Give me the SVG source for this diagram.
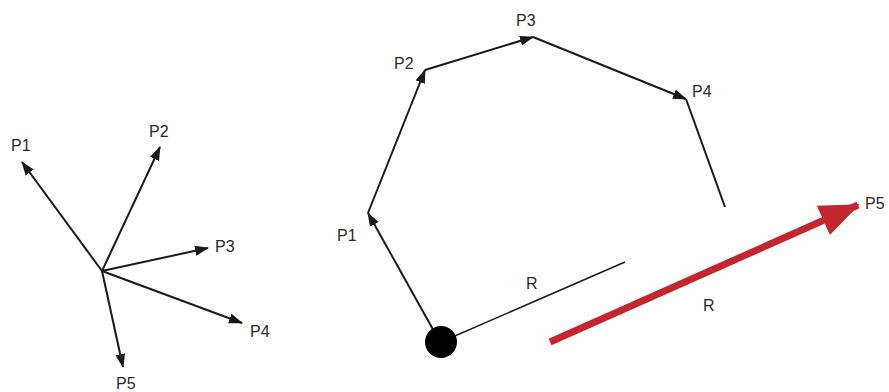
<svg xmlns="http://www.w3.org/2000/svg" width="889" height="392" viewBox="0 0 889 392">
<style>
text{font-family:"Liberation Sans",Arial,sans-serif;font-size:16px;fill:#2a2a2a}
.ln{stroke:#1a1a1a;stroke-width:2;fill:none}
.thin{stroke:#1a1a1a;stroke-width:1.6;fill:none}
</style>
<defs>
<marker id="ah" markerUnits="userSpaceOnUse" markerWidth="14" markerHeight="12" refX="13" refY="5" orient="auto" viewBox="0 0 14 10">
<path d="M0,0 L14,5 L0,10 z" fill="#1a1a1a"/>
</marker>
<marker id="rh" markerUnits="userSpaceOnUse" markerWidth="40" markerHeight="32" refX="38" refY="16" orient="auto" viewBox="0 0 40 32">
<path d="M0,0 L40,16 L0,32 z" fill="#c1272d"/>
</marker>
</defs>
<g id="connectors">
<line class="ln" x1="102" y1="271" x2="22" y2="162" marker-end="url(#ah)"/>
<line class="ln" x1="102" y1="271" x2="160" y2="147" marker-end="url(#ah)"/>
<line class="ln" x1="102" y1="271" x2="208" y2="248" marker-end="url(#ah)"/>
<line class="ln" x1="102" y1="271" x2="242" y2="323" marker-end="url(#ah)"/>
<line class="ln" x1="102" y1="271" x2="123" y2="367" marker-end="url(#ah)"/>
<line class="ln" x1="440" y1="342" x2="368" y2="213" marker-end="url(#ah)"/>
<line class="ln" x1="368" y1="213" x2="425" y2="70" marker-end="url(#ah)"/>
<line class="ln" x1="425" y1="70" x2="533" y2="37" marker-end="url(#ah)"/>
<line class="ln" x1="533" y1="37" x2="686" y2="99" marker-end="url(#ah)"/>
<line class="ln" x1="686" y1="99" x2="725" y2="207"/>
<line class="thin" x1="441" y1="342" x2="625" y2="262"/>
<line x1="550" y1="342" x2="858" y2="205" stroke="#c1272d" stroke-width="7" marker-end="url(#rh)"/>
</g>
<g id="start"><circle cx="441" cy="342" r="16" fill="#000"/></g>
<g id="labels-left">
<text x="11" y="151">P1</text>
<text x="149" y="137">P2</text>
<text x="215" y="252">P3</text>
<text x="250" y="337">P4</text>
<text x="116" y="389">P5</text>
</g>
<g id="labels-right">
<text x="337" y="241">P1</text>
<text x="394" y="69">P2</text>
<text x="516" y="26">P3</text>
<text x="692" y="97">P4</text>
<text x="865" y="209">P5</text>
<text x="526" y="289">R</text>
<text x="703" y="311">R</text>
</g>
</svg>
